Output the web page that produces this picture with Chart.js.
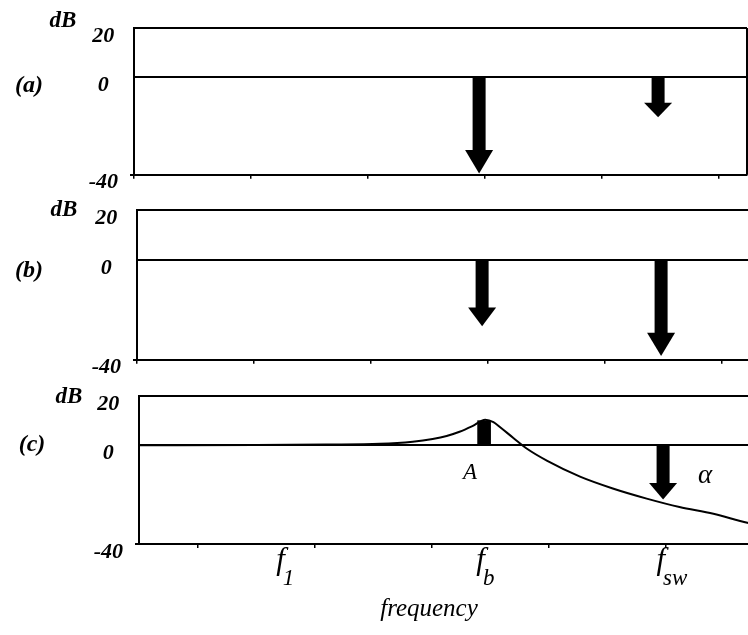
<!DOCTYPE html>
<html>
<head>
<meta charset="utf-8">
<script src="https://cdn.jsdelivr.net/npm/chart.js@4.4.0/dist/chart.umd.min.js"></script>
<style>
  html, body { margin: 0; padding: 0; background: #fff; }
  body { width: 748px; height: 635px; position: relative; overflow: hidden; }
  canvas { position: absolute; }
</style>
</head>
<body>
<canvas id="panelA" width="748" height="200" style="left:0;top:0"></canvas>
<canvas id="panelB" width="748" height="200" style="left:3px;top:185px"></canvas>
<canvas id="panelC" width="748" height="265" style="left:5px;top:370px"></canvas>
<script>
// axis ticks
const yTicks = [-40, 0, 20];
const xTicks = [0, 1, 2, 3, 4, 5];
const xMax = 5.24;

// frequency positions
const fb = 2.95;
const fsw = 4.48;

// arrows (dB) per panel
const arrowXA = [fb, fsw];
const arrowsA = [-39.5, -16.5];
const arrowXB = [fb, fsw];
const arrowsB = [-26.5, -38.5];
const arrowXC = [fsw];
const arrowsC = [-22];

// resonance block A in (c)
const peakX = [fb];
const peakA = [10];

// closed-loop curve in (c)
const curveX = [0, 1.0, 1.6, 2.06, 2.34, 2.51, 2.63, 2.74, 2.85, 2.96, 3.03, 3.09, 3.2, 3.32, 3.49, 3.77, 4.05, 4.34, 4.62, 4.91, 5.2, 5.3];
const curveY = [0, 0.1, 0.3, 0.6, 1.5, 2.6, 3.8, 5.5, 7.8, 10.4, 9.4, 7.2, 3.0, -1.5, -6.3, -12.7, -17.5, -21.6, -25, -27.7, -31.4, -32.3];

// text
const panelNames = ["(a)", "(b)", "(c)"];
const unitLabel = "dB";
const freqBase = ["f", "f", "f"];
const freqSub = ["1", "b", "sw"];
const freqX = [1.21, 2.92, 4.46];
const axisTitle = "frequency";
const peakLabel = "A";
const attLabel = "α";

const serif = '"Liberation Serif", "Times New Roman", serif';

function drawArrow(ctx, x, y0, y1) {
  const len = y1 - y0;
  const head = 8 + 0.16 * len;
  ctx.fillRect(x - 6.5, y0, 13, len - head + 1);
  ctx.beginPath();
  ctx.moveTo(x - 14, y1 - head);
  ctx.lineTo(x + 14, y1 - head);
  ctx.lineTo(x, y1);
  ctx.closePath();
  ctx.fill();
}

const marks = {
  id: 'marks',
  afterDatasetsDraw(chart, args, o) {
    const ctx = chart.ctx;
    const xs = chart.scales.x, ys = chart.scales.y, area = chart.chartArea;
    ctx.save();
    ctx.fillStyle = '#000';
    ctx.strokeStyle = '#000';
    if (o.box) {
      ctx.lineWidth = 2;
      ctx.beginPath();
      ctx.moveTo(area.right, area.top);
      ctx.lineTo(area.right, area.bottom);
      ctx.stroke();
    }
    o.arrowX.forEach((xv, i) => {
      drawArrow(ctx, xs.getPixelForValue(xv), ys.getPixelForValue(0), ys.getPixelForValue(o.arrowY[i]));
    });
    ctx.textAlign = 'center';
    ctx.textBaseline = 'middle';
    ctx.font = 'italic bold 23px ' + serif;
    ctx.fillText(unitLabel, o.unitPos[0], o.unitPos[1]);
    ctx.font = 'italic bold 24px ' + serif;
    ctx.fillText(o.name, o.namePos[0], o.namePos[1]);
    if (o.freq) {
      ctx.textBaseline = 'alphabetic';
      freqBase.forEach((t, i) => {
        const px = xs.getPixelForValue(freqX[i]);
        ctx.font = 'italic 31px ' + serif;
        ctx.textAlign = 'center';
        ctx.fillText(t, px, 199);
        const w = ctx.measureText(t).width;
        ctx.font = 'italic 23px ' + serif;
        ctx.textAlign = 'left';
        ctx.fillText(freqSub[i], px + w / 2 - 2, 215);
      });
      ctx.textAlign = 'center';
      ctx.font = 'italic 25px ' + serif;
      ctx.fillText(axisTitle, 424, 246);
      ctx.textBaseline = 'middle';
      ctx.font = 'italic 23px ' + serif;
      ctx.fillText(peakLabel, 465, 103);
      ctx.font = 'italic 27px ' + serif;
      ctx.fillText(attLabel, 700, 106);
    }
    ctx.restore();
  }
};

function panel(id, cfg) {
  return new Chart(document.getElementById(id), {
    type: 'line',
    data: { datasets: cfg.datasets },
    options: {
      responsive: false,
      animation: false,
      events: [],
      layout: { padding: { top: cfg.top, right: 1, left: 0, bottom: 0 } },
      plugins: {
        legend: { display: false },
        tooltip: { enabled: false },
        marks: cfg.marks
      },
      scales: {
        x: {
          type: 'linear',
          min: 0,
          max: xMax,
          offset: false,
          afterBuildTicks: s => { s.ticks = xTicks.map(v => ({ value: v })); },
          afterFit: s => { s.height = cfg.xHeight; },
          grid: { drawOnChartArea: false, drawTicks: true, tickLength: 4, color: '#000', lineWidth: 1.5 },
          border: { color: '#000', width: 2 },
          ticks: { display: false }
        },
        y: {
          min: -40,
          max: 20,
          afterBuildTicks: s => { s.ticks = yTicks.map(v => ({ value: v })); },
          afterFit: s => { s.width = 134; },
          grid: {
            color: '#000',
            lineWidth: 2,
            tickLength: 4,
            tickColor: c => (c.tick && c.tick.value === -40 ? '#000' : 'rgba(0,0,0,0)')
          },
          border: { color: '#000', width: 2 },
          ticks: {
            crossAlign: 'center',
            padding: 12,
            labelOffset: 8,
            color: '#000',
            font: { family: serif, size: 22, style: 'italic', weight: 'bold' },
            callback: v => String(v)
          }
        }
      }
    },
    plugins: [marks]
  });
}

panel('panelA', {
  top: 28, xHeight: 25, datasets: [],
  marks: { box: true, arrowX: arrowXA, arrowY: arrowsA, name: panelNames[0], namePos: [29, 86], unitPos: [63, 21] }
});

panel('panelB', {
  top: 25, xHeight: 25, datasets: [],
  marks: { box: false, arrowX: arrowXB, arrowY: arrowsB, name: panelNames[1], namePos: [26, 86], unitPos: [61, 25] }
});

panel('panelC', {
  top: 26, xHeight: 91,
  datasets: [
    {
      type: 'line',
      data: curveX.map((x, i) => ({ x: x, y: curveY[i] })),
      borderColor: '#000',
      borderWidth: 2,
      pointRadius: 0,
      cubicInterpolationMode: 'monotone',
      fill: false
    },
    {
      type: 'bar',
      data: peakX.map((x, i) => ({ x: x, y: [0, peakA[i]] })),
      backgroundColor: '#000',
      borderWidth: 0,
      barThickness: 13
    }
  ],
  marks: { box: false, arrowX: arrowXC, arrowY: arrowsC, name: panelNames[2], namePos: [27, 75], unitPos: [64, 27], freq: true }
});
</script>
</body>
</html>
